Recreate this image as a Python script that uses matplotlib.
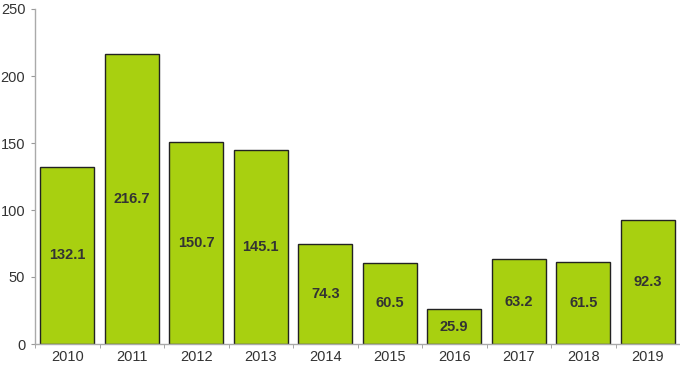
import matplotlib
matplotlib.use("Agg")
import matplotlib.pyplot as plt
import numpy as np

plt.rcParams["font.family"] = ["Liberation Sans", "DejaVu Sans"]

years = ["2010", "2011", "2012", "2013", "2014", "2015", "2016", "2017", "2018", "2019"]
values = [132.1, 216.7, 150.7, 145.1, 74.3, 60.5, 25.9, 63.2, 61.5, 92.3]
yticks = [0, 50, 100, 150, 200, 250]

fig = plt.figure(figsize=(6.8, 3.66), dpi=100)
ax = fig.add_axes([35/680, 1 - 344/366, 645/680, 335/366])

x = np.arange(len(years))
bars = ax.bar(x, values, width=0.84, color="#A8D010", edgecolor="#222222", linewidth=1.0)
for xi, v in zip(x, values):
    ax.text(xi, v / 2, f"{v:.1f}", ha="center", va="center", fontsize=10.5,
            fontweight="bold", color="#333333")

ax.set_xlim(-0.5, len(years) - 0.5)
ax.set_ylim(0, 250)
ax.set_yticks(yticks)
ax.set_yticklabels([str(t) for t in yticks], fontsize=10.5, color="#333333")
ax.set_xticks(x)
ax.set_xticklabels(years, fontsize=10.5, color="#333333")
ax.tick_params(axis="x", length=0, pad=4)
ax.set_xticks(np.arange(len(years) + 1) - 0.5, minor=True)
ax.tick_params(axis="x", which="minor", length=3, color="#999999", direction="out")
ax.tick_params(axis="y", length=3, color="#999999", direction="out", pad=4)

for s in ["top", "right"]:
    ax.spines[s].set_visible(False)
for s in ["left", "bottom"]:
    ax.spines[s].set_color("#AAAAAA")
    ax.spines[s].set_linewidth(1.0)

fig.savefig("out.png", dpi=100)
